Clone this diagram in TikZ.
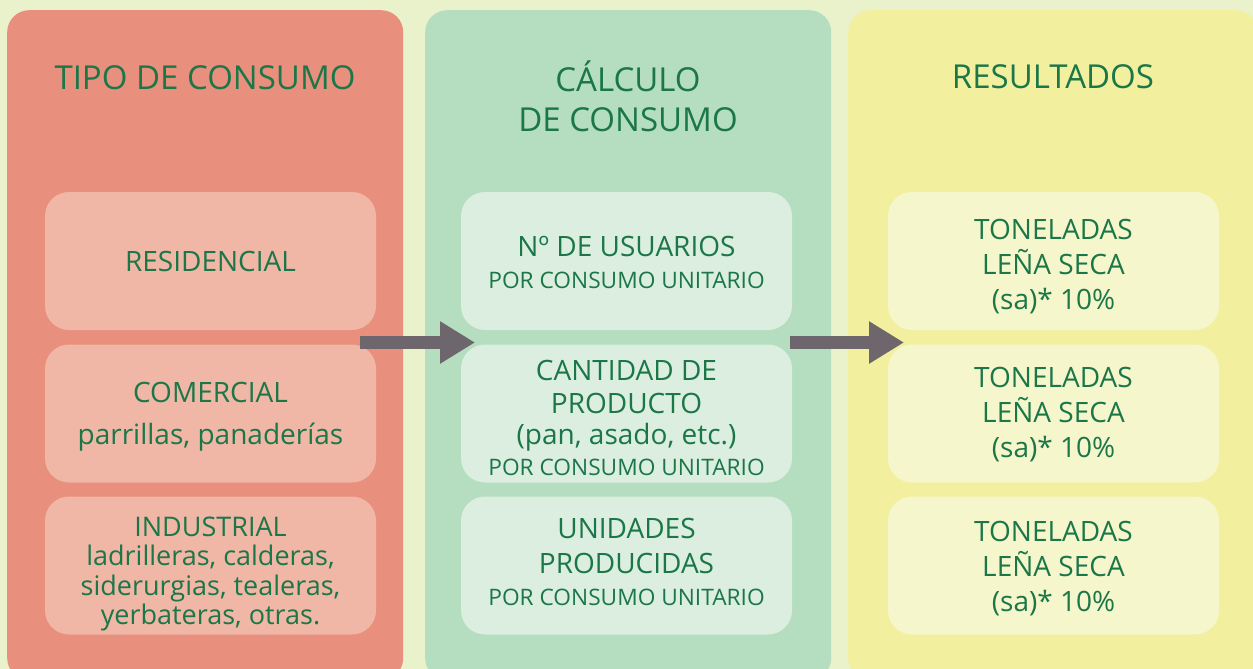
\documentclass[tikz,border=0pt]{standalone}
\usepackage{fontspec}
\setmainfont{Open Sans}
\usetikzlibrary{arrows.meta}
\definecolor{bg}{HTML}{EAF2CB}
\definecolor{redp}{HTML}{E98F7D}
\definecolor{redi}{HTML}{F0B6A6}
\definecolor{greenp}{HTML}{B5DDBF}
\definecolor{greeni}{HTML}{DBEEDF}
\definecolor{yelp}{HTML}{F2F09F}
\definecolor{yeli}{HTML}{F6F6CC}
\definecolor{txt}{HTML}{1B7648}
\definecolor{arrcol}{HTML}{6D666D}
\tikzset{
  panel/.style={rounded corners=22pt, minimum width=#1, minimum height=670pt, anchor=north west, inner sep=0pt},
  innerbox/.style={rounded corners=24pt, minimum width=331pt, minimum height=138pt, inner sep=0pt},
  boxtext/.style={text=txt, align=center, inner sep=0pt},
  heading/.style={text=txt, align=center, inner sep=0pt, font=\fontsize{33}{40}\selectfont},
  flowarrow/.style={draw=arrcol, line width=13pt, -{Triangle[length=35pt,width=40pt]}}
}
\newcommand{\smallline}{\fontsize{22.7}{30}\selectfont}
\begin{document}
\begin{tikzpicture}[x=1pt,y=-1pt]
\useasboundingbox (0,0) rectangle (1253,669);
\clip (0,0) rectangle (1253,669);
\fill[bg] (0,0) rectangle (1253,669);
% panels
\node[panel=396pt, fill=redp] (p1) at (7,10) {};
\node[panel=406pt, fill=greenp] (p2) at (425,10) {};
\node[panel=410pt, fill=yelp] (p3) at (848,10) {};
% headings
\node[heading] (h1) at (205,78) {TIPO DE CONSUMO};
\node[heading] (h2) at (628,96) {CÁLCULO\\DE CONSUMO};
\node[heading] (h3) at (1053,77) {RESULTADOS};
% inner boxes
\node[innerbox, fill=redi] (r1) at (210.5,261) {};
\node[innerbox, fill=redi] (r2) at (210.5,413.5) {};
\node[innerbox, fill=redi] (r3) at (210.5,565.5) {};
\node[innerbox, fill=greeni] (g1) at (626.5,261) {};
\node[innerbox, fill=greeni] (g2) at (626.5,413.5) {};
\node[innerbox, fill=greeni] (g3) at (626.5,565.5) {};
\node[innerbox, fill=yeli] (y1) at (1053.5,261) {};
\node[innerbox, fill=yeli] (y2) at (1053.5,413.5) {};
\node[innerbox, fill=yeli] (y3) at (1053.5,565.5) {};
% red texts
\node[boxtext, font=\fontsize{28}{30}\selectfont] (r1t) at (210.5,261) {RESIDENCIAL};
\node[boxtext, font=\fontsize{28}{42}\selectfont] (r2t) at (210.5,417) {COMERCIAL\\parrillas, panaderías};
\node[boxtext, font=\fontsize{27}{29.5}\selectfont] (r3t) at (210.5,574) {INDUSTRIAL\\ladrilleras, calderas,\\siderurgias, tealeras,\\yerbateras, otras.};
% green texts
\node[boxtext, font=\fontsize{28}{32}\selectfont] (g1t) at (626.5,262) {Nº DE USUARIOS\\{\smallline POR CONSUMO UNITARIO}};
\node[boxtext, font=\fontsize{28}{33}\selectfont] (g2t) at (626.5,418) {CANTIDAD DE\\PRODUCTO\\[-2pt](pan, asado, etc.)\\[-2pt]{\smallline POR CONSUMO UNITARIO}};
\node[boxtext, font=\fontsize{28}{35}\selectfont] (g3t) at (626.5,561.5) {UNIDADES\\PRODUCIDAS\\[-3pt]{\smallline POR CONSUMO UNITARIO}};
% yellow texts
\node[boxtext, font=\fontsize{28}{35}\selectfont] (y1t) at (1053.5,267) {TONELADAS\\LEÑA SECA\\(sa)* 10\%};
\node[boxtext, font=\fontsize{28}{35}\selectfont] (y2t) at (1053.5,415) {TONELADAS\\LEÑA SECA\\(sa)* 10\%};
\node[boxtext, font=\fontsize{28}{35}\selectfont] (y3t) at (1053.5,568.5) {TONELADAS\\LEÑA SECA\\(sa)* 10\%};
% arrows
\coordinate (a1s) at (360,342.5);
\coordinate (a1e) at (475,342.5);
\coordinate (a2s) at (790,342.5);
\coordinate (a2e) at (904,342.5);
\draw[flowarrow] (a1s) -- (a1e);
\draw[flowarrow] (a2s) -- (a2e);
\end{tikzpicture}
\end{document}
